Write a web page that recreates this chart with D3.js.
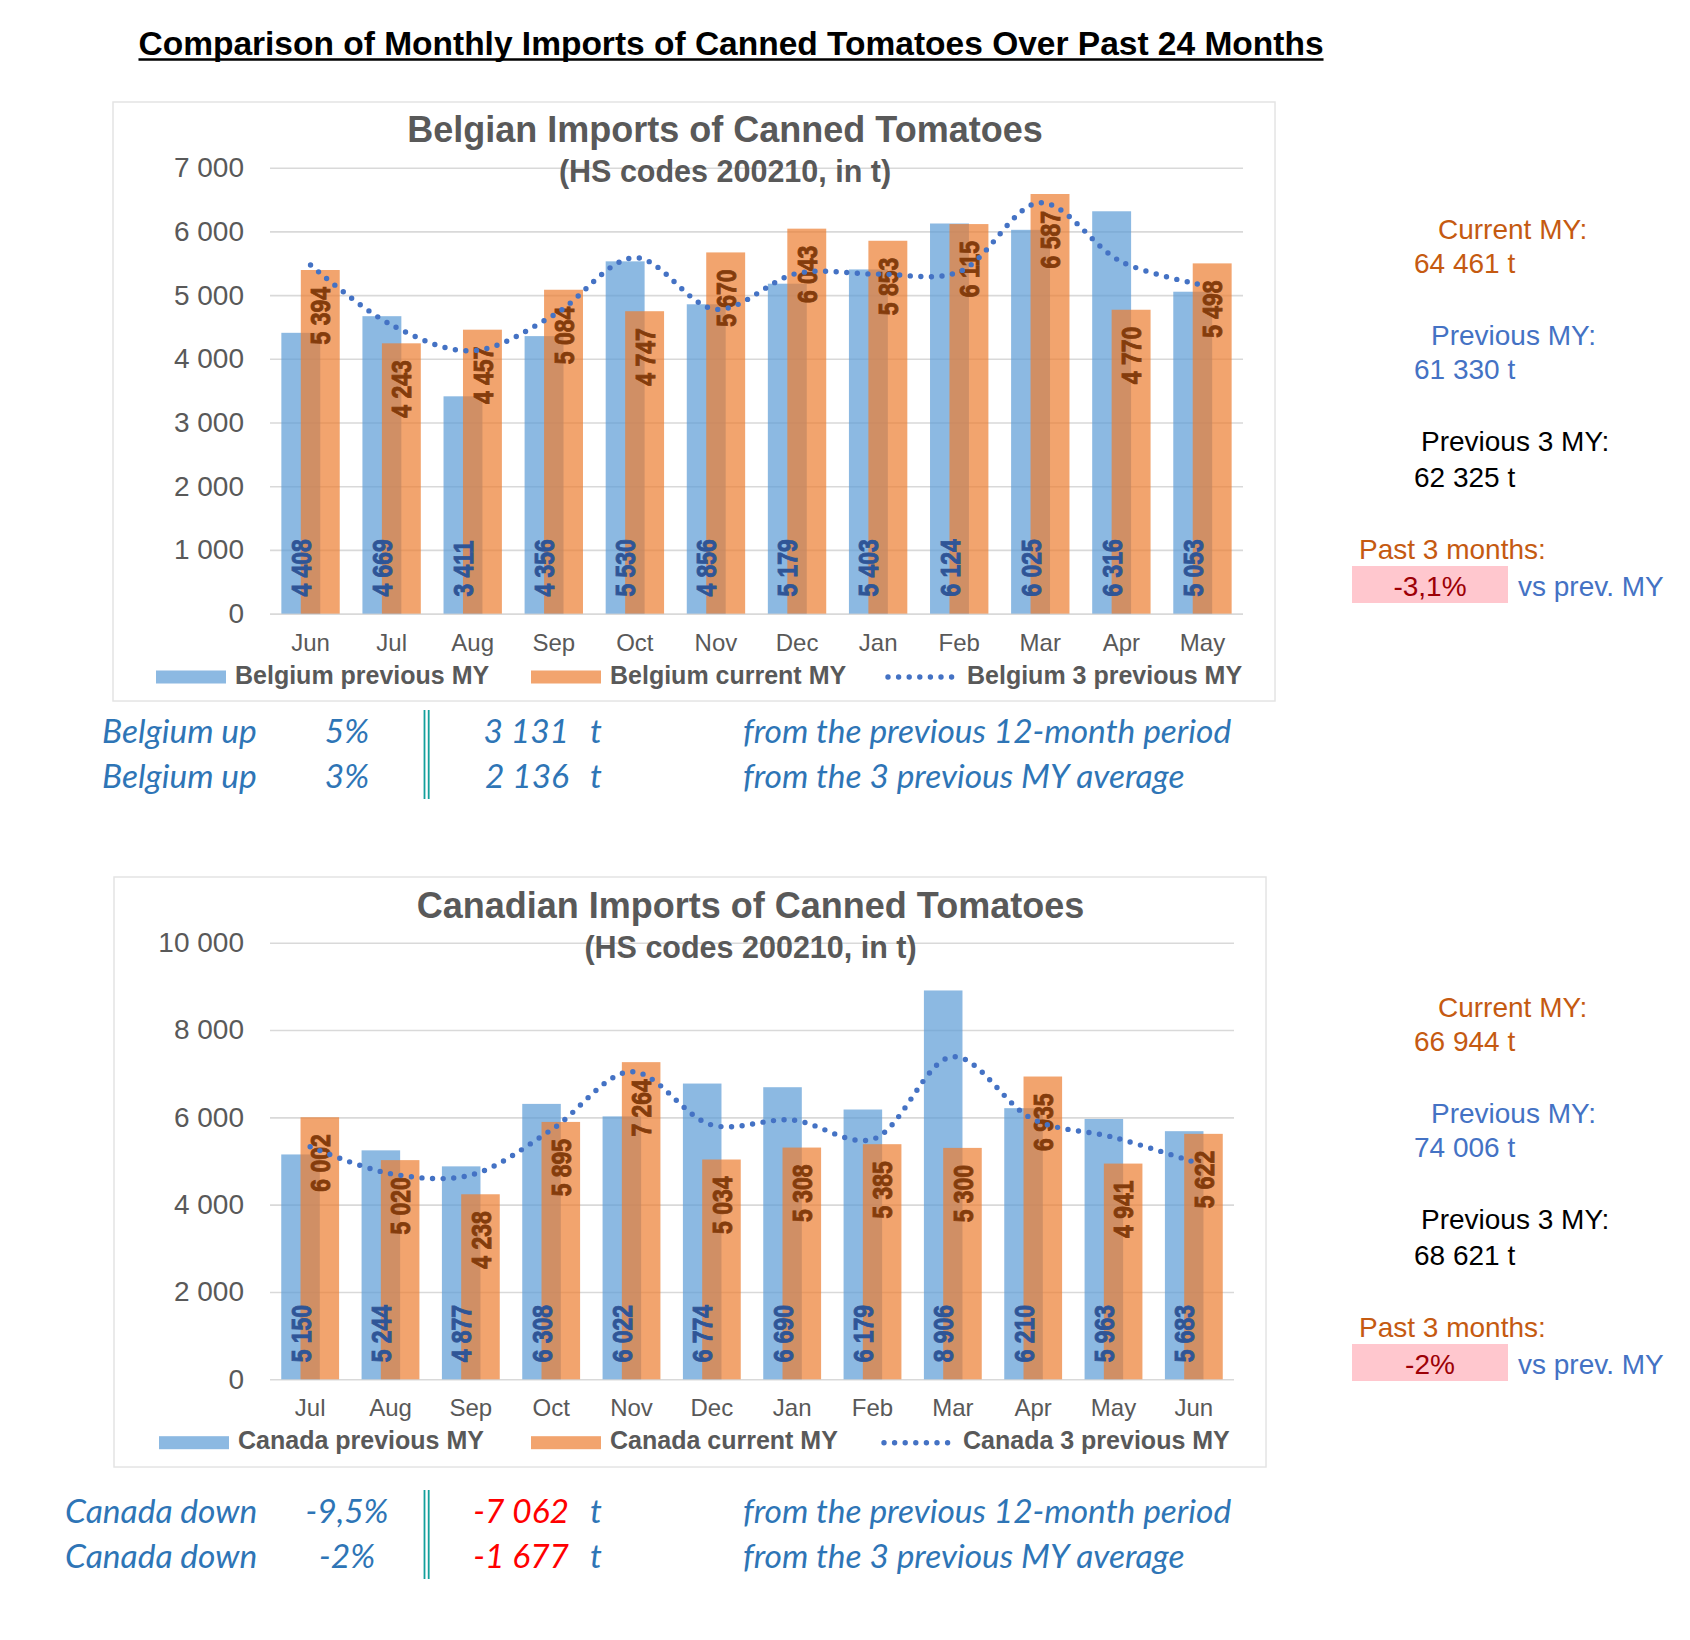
<!DOCTYPE html>
<html><head><meta charset="utf-8">
<script src="https://cdn.jsdelivr.net/npm/d3@7"></script>
<style>body{margin:0;background:#fff} svg{display:block}</style>
</head><body><svg id="c" width="1690" height="1640"></svg>
<script>
// ---------- DATA ----------
const pageTitle = "Comparison of Monthly Imports of Canned Tomatoes Over Past 24 Months";

const belgiumMonths = ["Jun","Jul","Aug","Sep","Oct","Nov","Dec","Jan","Feb","Mar","Apr","May"];
const belgiumPrev   = [4408,4669,3411,4356,5530,4856,5179,5403,6124,6025,6316,5053];
const belgiumCurr   = [5394,4243,4457,5084,4747,5670,6043,5853,6115,6587,4770,5498];
const belgium3Prev  = [5472,4530,4127,4687,5587,4777,5341,5330,5366,6450,5524,5158];
const belgiumTicks  = [0,1000,2000,3000,4000,5000,6000,7000];
const belgiumSeries = ["Belgium previous MY","Belgium current MY","Belgium 3 previous MY"];
const belgiumTitle  = ["Belgian Imports of Canned Tomatoes","(HS codes 200210, in t)"];
const belgiumSide   = ["Current MY:","64 461 t","Previous MY:","61 330 t","Previous 3 MY:","62 325 t","Past 3 months:","-3,1%","vs prev. MY"];
const belgiumRows   = [["Belgium up","5%","3 131","t","from the previous 12-month period"],
                       ["Belgium up","3%","2 136","t","from the 3 previous MY average"]];

const canadaMonths = ["Jul","Aug","Sep","Oct","Nov","Dec","Jan","Feb","Mar","Apr","May","Jun"];
const canadaPrev   = [5150,5244,4877,6308,6022,6774,6690,6179,8906,6210,5963,5683];
const canadaCurr   = [6002,5020,4238,5895,7264,5034,5308,5385,5300,6935,4941,5622];
const canada3Prev  = [5328,4710,4679,5710,7046,5825,5939,5497,7389,5955,5542,4977];
const canadaTicks  = [0,2000,4000,6000,8000,10000];
const canadaSeries = ["Canada previous MY","Canada current MY","Canada 3 previous MY"];
const canadaTitle  = ["Canadian Imports of Canned Tomatoes","(HS codes 200210, in t)"];
const canadaSide   = ["Current MY:","66 944 t","Previous MY:","74 006 t","Previous 3 MY:","68 621 t","Past 3 months:","-2%","vs prev. MY"];
const canadaRows   = [["Canada down","-9,5%","-7 062","t","from the previous 12-month period"],
                      ["Canada down","-2%","-1 677","t","from the 3 previous MY average"]];

// ---------- DRAW ----------
const svg = d3.select("#c");
const ARIAL = "'Liberation Sans', Arial, Helvetica, sans-serif";
const ITAL = "Lato, 'Open Sans', sans-serif";
const GREY = "#595959";
const fmt = v => d3.format(",")(v).replace(/,/g, "\u00a0");

// page title
const tt = svg.append("text").attr("x", 731).attr("y", 55).attr("text-anchor", "middle")
  .style("font-family", ARIAL).style("font-weight", "bold").style("font-size", "33.5px")
  .attr("fill", "#000").text(pageTitle);
const tlen = tt.node().getComputedTextLength();
svg.append("line").attr("x1", 731 - tlen/2).attr("x2", 731 + tlen/2)
  .attr("y1", 59.5).attr("y2", 59.5).attr("stroke", "#000").attr("stroke-width", 2.6);

function chart(cfg) {
  const g = svg.append("g");
  // panel
  g.append("rect").attr("x", cfg.panel[0]).attr("y", cfg.panel[1])
    .attr("width", cfg.panel[2]).attr("height", cfg.panel[3])
    .attr("fill", "#fff").attr("stroke", "#e4e4e4").attr("stroke-width", 1.5);

  const x = d3.scaleBand().domain(cfg.months).range([cfg.left, cfg.right]).padding(0);
  const y = d3.scaleLinear().domain([0, cfg.ticks[cfg.ticks.length-1]]).range([cfg.base, cfg.top]);
  const step = x.bandwidth();
  const w = step * 0.48;
  const m0 = (step - 1.5*w) / 2;

  // y axis with gridlines
  const ya = g.append("g").attr("transform", `translate(${cfg.left},0)`)
    .call(d3.axisLeft(y).tickValues(cfg.ticks).tickSize(-(cfg.right - cfg.left))
      .tickPadding(26).tickFormat(fmt));
  ya.select(".domain").remove();
  ya.selectAll("line").attr("stroke", "#d9d9d9").attr("stroke-width", 1.6);
  ya.selectAll("text").style("font-family", ARIAL).style("font-size", "28px").attr("fill", GREY);

  // x axis labels
  const xa = g.append("g").attr("transform", `translate(0,${cfg.base})`)
    .call(d3.axisBottom(x).tickSize(0).tickPadding(20));
  xa.select(".domain").remove();
  xa.selectAll("text").style("font-family", ARIAL).style("font-size", "24px").attr("fill", GREY);

  // titles
  g.append("text").attr("x", cfg.titleX).attr("y", cfg.titleY).attr("text-anchor", "middle")
    .style("font-family", ARIAL).style("font-weight", "bold").style("font-size", "36px")
    .attr("fill", GREY).text(cfg.title[0]);
  g.append("text").attr("x", cfg.titleX).attr("y", cfg.titleY + 40).attr("text-anchor", "middle")
    .style("font-family", ARIAL).style("font-weight", "bold").style("font-size", "30.5px")
    .attr("fill", GREY).text(cfg.title[1]);

  const prev = cfg.months.map((m, i) => ({m, v: cfg.prev[i]}));
  const curr = cfg.months.map((m, i) => ({m, v: cfg.curr[i]}));
  const avg  = cfg.months.map((m, i) => ({m, v: cfg.avg[i]}));

  g.append("g").selectAll("rect").data(prev).join("rect")
    .attr("x", d => x(d.m) + m0).attr("width", w)
    .attr("y", d => y(d.v)).attr("height", d => cfg.base - y(d.v))
    .attr("fill", "#5B9BD5").attr("fill-opacity", 0.7);
  g.append("g").selectAll("rect").data(curr).join("rect")
    .attr("x", d => x(d.m) + m0 + w/2).attr("width", w)
    .attr("y", d => y(d.v)).attr("height", d => cfg.base - y(d.v))
    .attr("fill", "#ED7D31").attr("fill-opacity", 0.7);

  // data labels (condensed bold)
  g.append("g").selectAll("text").data(prev).join("text")
    .attr("transform", d => `translate(${x(d.m) + m0 + w/2},${cfg.base - 17}) rotate(-90) scale(0.82,1)`)
    .attr("dy", "0.36em").attr("text-anchor", "start")
    .style("font-family", ARIAL).style("font-weight", "bold").style("font-size", "28px")
    .attr("fill", "#2F5597").attr("stroke", "#2F5597").attr("stroke-width", 0.9)
    .text(d => fmt(d.v));
  g.append("g").selectAll("text").data(curr).join("text")
    .attr("transform", d => `translate(${x(d.m) + m0 + w},${y(d.v) + 17}) rotate(-90) scale(0.82,1)`)
    .attr("dy", "0.36em").attr("text-anchor", "end")
    .style("font-family", ARIAL).style("font-weight", "bold").style("font-size", "28px")
    .attr("fill", "#843C0C").attr("stroke", "#843C0C").attr("stroke-width", 0.9)
    .text(d => fmt(d.v));

  // dotted smooth line
  const line = d3.line().x(d => x(d.m) + step/2).y(d => y(d.v)).curve(d3.curveCatmullRom.alpha(0.5));
  g.append("path").datum(avg).attr("d", line).attr("fill", "none")
    .attr("stroke", "#4472C4").attr("stroke-width", 5.4).attr("stroke-linecap", "round")
    .attr("stroke-dasharray", "0 10.6");

  // legend
  const ly = cfg.legendY;
  const lg = g.append("g").style("font-family", ARIAL).style("font-weight", "bold").style("font-size", "25px");
  lg.append("rect").attr("x", cfg.leg[0]).attr("y", ly - 6.5).attr("width", 70).attr("height", 13)
    .attr("fill", "#5B9BD5").attr("fill-opacity", 0.7);
  lg.append("text").attr("x", cfg.leg[0] + 79).attr("y", ly + 6.5).attr("fill", GREY).text(cfg.series[0]);
  lg.append("rect").attr("x", cfg.leg[1]).attr("y", ly - 6.5).attr("width", 70).attr("height", 13)
    .attr("fill", "#ED7D31").attr("fill-opacity", 0.7);
  lg.append("text").attr("x", cfg.leg[1] + 79).attr("y", ly + 6.5).attr("fill", GREY).text(cfg.series[1]);
  lg.append("line").attr("x1", cfg.leg[2] + 3).attr("x2", cfg.leg[2] + 68).attr("y1", ly).attr("y2", ly)
    .attr("stroke", "#4472C4").attr("stroke-width", 5.4).attr("stroke-linecap", "round")
    .attr("stroke-dasharray", "0 10.6");
  lg.append("text").attr("x", cfg.leg[2] + 82).attr("y", ly + 6.5).attr("fill", GREY).text(cfg.series[2]);

  // rows of text beneath
  cfg.rows.forEach((r, i) => {
    const by = cfg.rowY[i];
    const t = g.append("g").style("font-family", ITAL).style("font-style", "italic").style("font-size", "33.5px");
    t.append("text").attr("x", cfg.rowX).attr("y", by).attr("fill", "#2E75B6").text(r[0]);
    t.append("text").attr("x", 347).attr("y", by).attr("text-anchor", "middle").attr("fill", "#2E75B6").text(r[1]);
    t.append("text").attr("x", 569).attr("y", by).attr("text-anchor", "end").attr("fill", cfg.numColor).text(r[2]);
    t.append("text").attr("x", 590).attr("y", by).attr("fill", "#2E75B6").text(r[3]);
    t.append("text").attr("x", 743).attr("y", by).attr("fill", "#2E75B6").text(r[4]);
  });
  [424.5, 428.7].forEach(xx => g.append("line").attr("x1", xx).attr("x2", xx)
    .attr("y1", cfg.rowY[0] - 33).attr("y2", cfg.rowY[1] + 11)
    .attr("stroke", "#14A09C").attr("stroke-width", 1.8));

  // side panel
  const s = cfg.side, o = cfg.sideOff;
  const sg = g.append("g").style("font-family", ARIAL).style("font-size", "28px");
  sg.append("text").attr("x", 1438).attr("y", 239 + o).attr("fill", "#C55A11").text(s[0]);
  sg.append("text").attr("x", 1414).attr("y", 273 + o).attr("fill", "#C55A11").text(s[1]);
  sg.append("text").attr("x", 1431).attr("y", 345 + o).attr("fill", "#4472C4").text(s[2]);
  sg.append("text").attr("x", 1414).attr("y", 379 + o).attr("fill", "#4472C4").text(s[3]);
  sg.append("text").attr("x", 1421).attr("y", 451 + o).attr("fill", "#000").text(s[4]);
  sg.append("text").attr("x", 1414).attr("y", 487 + o).attr("fill", "#000").text(s[5]);
  sg.append("text").attr("x", 1359).attr("y", 559 + o).attr("fill", "#C55A11").text(s[6]);
  sg.append("rect").attr("x", 1352).attr("y", 566 + o).attr("width", 156).attr("height", 37).attr("fill", "#FFC7CE");
  sg.append("text").attr("x", 1430).attr("y", 596 + o).attr("text-anchor", "middle").attr("fill", "#9C0006").text(s[7]);
  sg.append("text").attr("x", 1518).attr("y", 596 + o).attr("fill", "#4472C4").text(s[8]);
}

chart({
  months: belgiumMonths, prev: belgiumPrev, curr: belgiumCurr, avg: belgium3Prev, ticks: belgiumTicks,
  series: belgiumSeries, title: belgiumTitle, side: belgiumSide, rows: belgiumRows,
  panel: [113, 102, 1162, 599], left: 270, right: 1243, top: 167.7, base: 613.6,
  titleX: 725, titleY: 141.5, legendY: 677, leg: [156, 531, 885],
  rowX: 102, rowY: [743, 788], numColor: "#2E75B6", sideOff: 0
});
chart({
  months: canadaMonths, prev: canadaPrev, curr: canadaCurr, avg: canada3Prev, ticks: canadaTicks,
  series: canadaSeries, title: canadaTitle, side: canadaSide, rows: canadaRows,
  panel: [114, 877, 1152, 590], left: 270, right: 1234, top: 942.7, base: 1379.3,
  titleX: 750.5, titleY: 918.3, legendY: 1442.7, leg: [159, 531, 881],
  rowX: 65, rowY: [1523, 1568], numColor: "#FF0000", sideOff: 778
});
</script></body></html>
